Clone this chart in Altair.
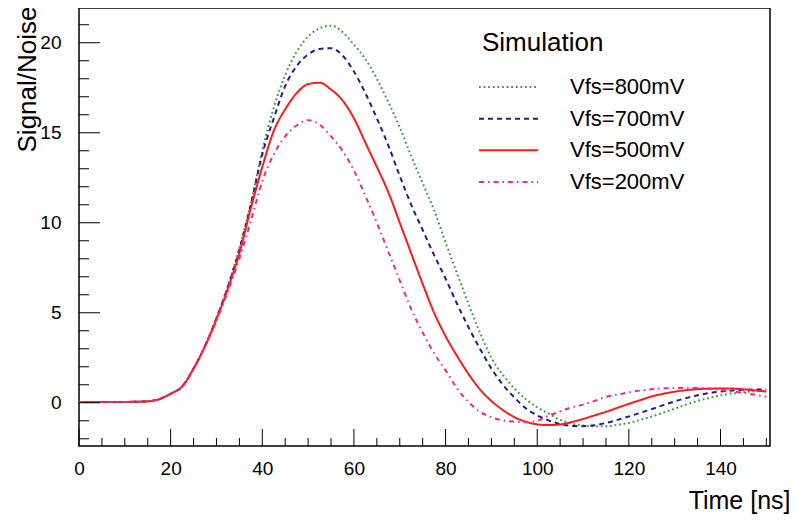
import altair as alt
import pandas as pd

# ---------------- data ----------------
time_ns = [0, 5, 10, 15, 17.5, 20, 22.5, 25, 27.5, 30, 32.5, 35, 37.5, 40, 42.5, 45,
           47.5, 50, 52.5, 55, 57.5, 60, 62.5, 65, 67.5, 70, 72.5, 75, 77.5, 80, 82.5,
           85, 87.5, 90, 92.5, 95, 97.5, 100, 102.5, 105, 107.5, 110, 112.5, 115,
           117.5, 120, 122.5, 125, 127.5, 130, 132.5, 135, 137.5, 140, 142.5, 145,
           147.5, 150]

sn_800 = [0.05, 0.05, 0.05, 0.08, 0.2, 0.5, 0.9, 1.9, 3.15, 4.7, 6.5, 8.6,
          11.1, 14.0, 16.4, 18.2, 19.5, 20.35, 20.8, 20.95, 20.6, 19.9, 19.1, 18.0,
          16.7, 15.3, 13.7, 12.2, 10.7, 8.9, 7.2, 5.5, 3.9, 2.5, 1.55, 0.8, 0.2,
          -0.25, -0.6, -0.95, -1.15, -1.26, -1.3, -1.3, -1.22, -1.12, -0.95, -0.76,
          -0.55, -0.33, -0.1, 0.1, 0.27, 0.42, 0.52, 0.59, 0.64, 0.67]

sn_700 = [0.05, 0.05, 0.05, 0.08, 0.2, 0.5, 0.9, 1.9, 3.15, 4.7, 6.45, 8.5,
          11.0, 13.8, 15.8, 17.6, 18.7, 19.35, 19.65, 19.7, 19.3, 18.4, 17.2, 15.8,
          14.3, 12.6, 11.0, 9.6, 8.2, 6.9, 5.5, 4.2, 3.0, 1.9, 1.0, 0.3, -0.3,
          -0.7, -0.98, -1.18, -1.28, -1.3, -1.25, -1.12, -0.95, -0.76, -0.56, -0.35,
          -0.13, 0.08, 0.26, 0.42, 0.54, 0.62, 0.68, 0.72, 0.74, 0.74]

sn_500 = [0.05, 0.05, 0.05, 0.08, 0.2, 0.5, 0.9, 1.9, 3.15, 4.65, 6.35, 8.3,
          10.8, 13.1, 15.1, 16.3, 17.2, 17.7, 17.78, 17.4, 16.8, 15.8, 14.45, 13.1,
          11.7, 10.0, 8.3, 6.6, 5.0, 3.7, 2.6, 1.6, 0.75, 0.1, -0.4, -0.8, -1.05,
          -1.2, -1.24, -1.2, -1.07, -0.9, -0.7, -0.5, -0.28, -0.06, 0.15, 0.35,
          0.5, 0.62, 0.7, 0.76, 0.79, 0.8, 0.79, 0.75, 0.69, 0.62]

sn_200 = [0.05, 0.05, 0.05, 0.08, 0.2, 0.5, 0.9, 1.85, 3.1, 4.55, 6.2, 8.0,
          10.1, 12.3, 13.8, 14.8, 15.4, 15.7, 15.45, 14.8, 14.0, 12.9, 11.5, 10.0,
          8.4, 6.8, 5.2, 3.9, 2.75, 1.8, 0.8, 0.05, -0.5, -0.8, -0.98, -1.05, -1.08,
          -1.0, -0.72, -0.48, -0.25, -0.1, 0.1, 0.33, 0.45, 0.58, 0.68, 0.75,
          0.8, 0.82, 0.83, 0.82, 0.78, 0.72, 0.63, 0.55, 0.45, 0.33]

series_names = ["Vfs=800mV", "Vfs=700mV", "Vfs=500mV", "Vfs=200mV"]
series_values = [sn_800, sn_700, sn_500, sn_200]
legend_title = ["Simulation"]

x_major_ticks = [0, 20, 40, 60, 80, 100, 120, 140]
x_minor_ticks = [5, 10, 15, 25, 30, 35, 45, 50, 55, 65, 70, 75, 85, 90, 95,
                 105, 110, 115, 125, 130, 135, 145, 150]
y_major_ticks = [0, 5, 10, 15, 20]
y_minor_ticks = [-2, -1, 1, 2, 3, 4, 6, 7, 8, 9, 11, 12, 13, 14, 16, 17, 18, 19, 21]

# ---------------- styles ----------------
colors = ["#3a9a3e", "#1e1e8a", "#ff1a1a", "#f0288c"]
dashes = [[1.8, 2.8], [5, 4], [1, 0], [5, 4, 1.5, 4]]
FONT = "Liberation Sans"
W, H = 691, 438

rows = []
for name, vals in zip(series_names, series_values):
    for t, v in zip(time_ns, vals):
        rows.append({"t": t, "sn": v, "series": name})
df = pd.DataFrame(rows)

xscale = alt.Scale(domain=[0, 150.8], nice=False, zero=False)
yscale = alt.Scale(domain=[-2.4, 21.93], nice=False, zero=False)
color_enc = alt.Color("series:N", scale=alt.Scale(domain=series_names, range=colors), legend=None)
dash_enc = alt.StrokeDash("series:N", scale=alt.Scale(domain=series_names, range=dashes), legend=None)

lines = alt.Chart(df).mark_line(strokeWidth=2, interpolate="monotone", clip=True).encode(
    x=alt.X("t:Q", scale=xscale, axis=alt.Axis(
        values=x_major_ticks, title="Time [ns]", ticks=False, domain=False, grid=False,
        labelFontSize=19, labelPadding=13, labelFlush=False,
        titleFontSize=25, titleFontWeight="normal", titleAnchor="end",
        titleAlign="right", titleX=711, titleY=54, titleBaseline="middle")),
    y=alt.Y("sn:Q", scale=yscale, axis=alt.Axis(
        values=y_major_ticks, title="Signal/Noise", ticks=False, domain=False, grid=False,
        labelFontSize=19, labelPadding=18, labelFlush=False,
        titleFontSize=26, titleFontWeight="normal", titleX=-52, titleY=-2,
        titleAngle=270, titleAlign="right", titleBaseline="middle")),
    color=color_enc,
    strokeDash=dash_enc,
)

tick_color = "black"
xmaj = alt.Chart(pd.DataFrame({"t": x_major_ticks})).mark_rule(color=tick_color, strokeWidth=1).encode(
    x=alt.X("t:Q", scale=xscale), y=alt.value(H), y2=alt.value(H - 17))
xmin = alt.Chart(pd.DataFrame({"t": x_minor_ticks})).mark_rule(color=tick_color, strokeWidth=1).encode(
    x=alt.X("t:Q", scale=xscale), y=alt.value(H), y2=alt.value(H - 8))
ymaj = alt.Chart(pd.DataFrame({"sn": y_major_ticks})).mark_rule(color=tick_color, strokeWidth=1).encode(
    y=alt.Y("sn:Q", scale=yscale, axis=None), x=alt.value(0), x2=alt.value(21))
ymin = alt.Chart(pd.DataFrame({"sn": y_minor_ticks})).mark_rule(color=tick_color, strokeWidth=1).encode(
    y=alt.Y("sn:Q", scale=yscale, axis=None), x=alt.value(0), x2=alt.value(10))

# ---- legend drawn inside the frame (ROOT-style) ----
leg_df = pd.DataFrame({"series": series_names})
leg_y = alt.Y("series:N", scale=alt.Scale(type="point", domain=series_names, range=[79, 174], padding=0),
              axis=None)
leg_lines = alt.Chart(leg_df).mark_rule(strokeWidth=2).encode(
    y=leg_y, x=alt.value(400), x2=alt.value(459), color=color_enc, strokeDash=dash_enc)
leg_text = alt.Chart(leg_df).mark_text(align="left", baseline="middle", font=FONT,
                                       fontSize=22, color="black").encode(
    y=leg_y, x=alt.value(491), text="series:N")
leg_title = alt.Chart(pd.DataFrame({"title": legend_title})).mark_text(
    align="left", baseline="middle", font=FONT, fontSize=26, color="black").encode(
    x=alt.value(403), y=alt.value(35), text="title:N")

chart = alt.layer(lines, xmaj, xmin, ymaj, ymin, leg_lines, leg_text, leg_title).resolve_scale(
    y="independent"
).properties(
    width=W, height=H,
    autosize=alt.AutoSizeParams(type="none"),
    padding={"left": 71, "top": 0, "right": 20, "bottom": 70},
    background="white",
).configure_view(
    stroke="black", strokeWidth=1.5
).configure_axis(
    labelFont=FONT, titleFont=FONT, labelColor="black", titleColor="black"
)

chart.save("out.html", embed_options={"renderer": "svg", "actions": False})
